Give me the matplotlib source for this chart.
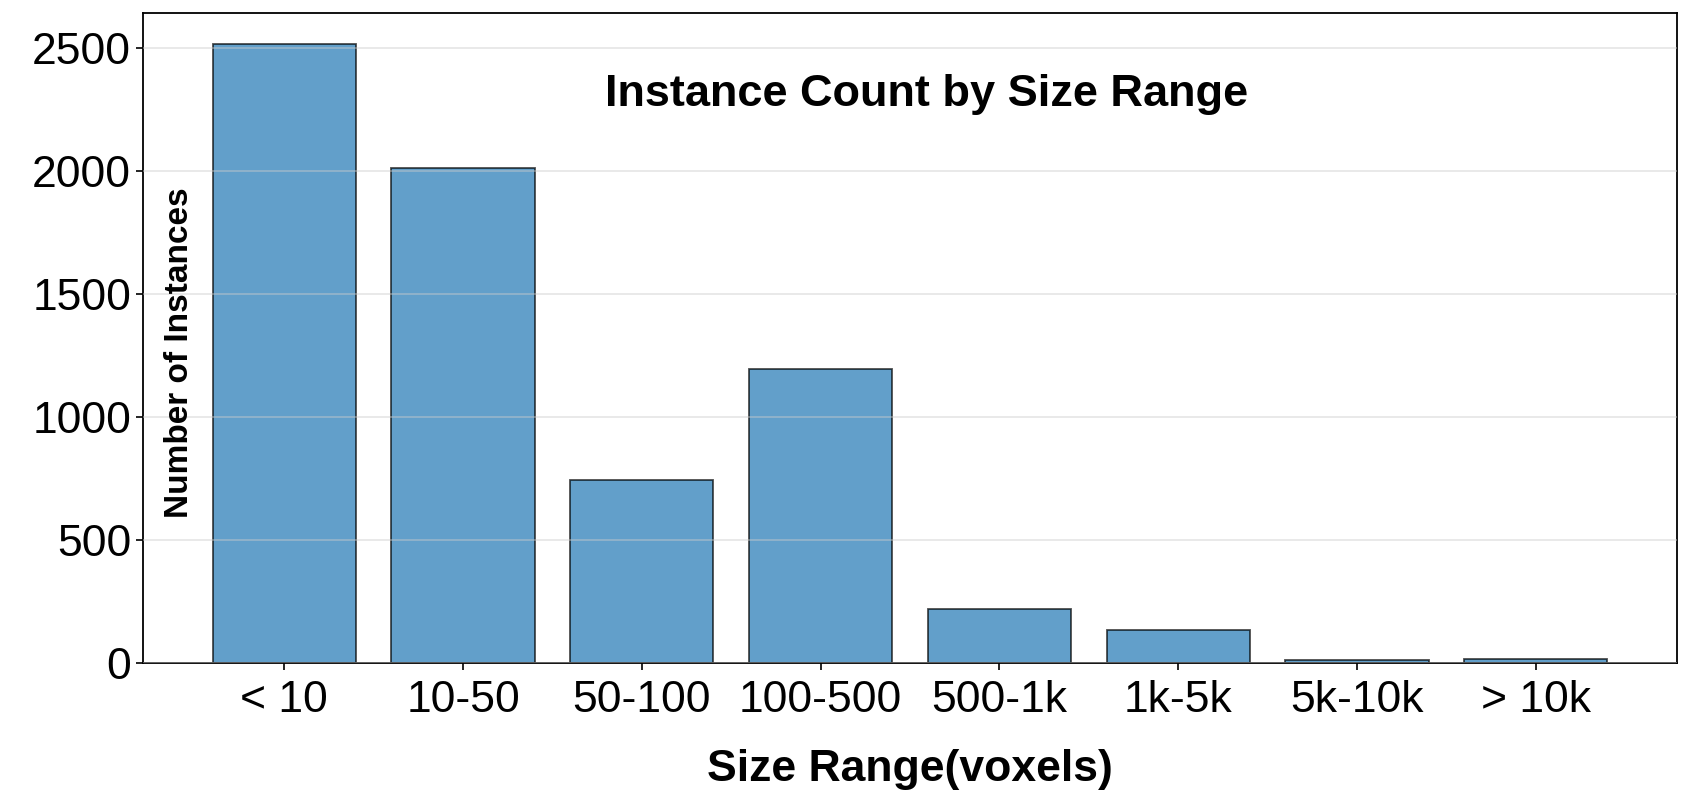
import matplotlib
matplotlib.use('Agg')
import matplotlib.pyplot as plt
import numpy as np

matplotlib.rcParams['font.family'] = ['Liberation Sans', 'DejaVu Sans']

# ===== DATA =====
size_ranges = ['< 10', '10-50', '50-100', '100-500', '500-1k', '1k-5k', '5k-10k', '> 10k']
instance_counts = [2516, 2011, 744, 1196, 220, 134, 11, 16]

BAR_COLOR = '#1f77b4'

fig = plt.figure(figsize=(16.88, 7.98), dpi=100)
ax = fig.add_axes([0.0847, 0.169, 0.9088, 0.8146])

x = np.arange(len(size_ranges))
ax.bar(x, instance_counts, width=0.8, color=BAR_COLOR, alpha=0.7,
       edgecolor='black', linewidth=1.3)

ax.set_xticks(x)
ax.set_xticklabels(size_ranges)
ax.tick_params(axis='both', labelsize=32, length=5, width=1.2)
ax.tick_params(axis='x', pad=7)
ax.set_yticks([0, 500, 1000, 1500, 2000, 2500])

ax.grid(axis='y', color='#cccccc', alpha=0.5, linewidth=1.2)
ax.set_axisbelow(False)

for sp in ax.spines.values():
    sp.set_linewidth(1.3)

ax.set_xlabel('Size Range(voxels)', fontsize=32, fontweight='bold', labelpad=20)

# y label sits inside the axes
ax.text(0.0235, 0.478, 'Number of Instances', transform=ax.transAxes,
        rotation=90, ha='center', va='center', fontsize=24, fontweight='bold')

# title inside the plot area
ax.text(0.511, 0.875, 'Instance Count by Size Range', transform=ax.transAxes,
        ha='center', va='center', fontsize=32.5, fontweight='bold')

plt.savefig('out.png', dpi=100, facecolor='white')
plt.close()
